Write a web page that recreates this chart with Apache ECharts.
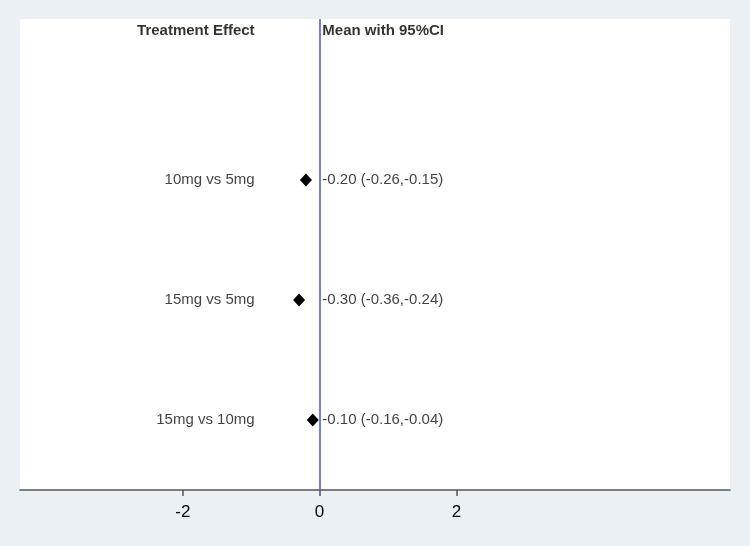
<!DOCTYPE html>
<html>
<head>
<meta charset="utf-8">
<script src="https://cdn.jsdelivr.net/npm/echarts@6/dist/echarts.min.js"></script>
<style>
  html, body { margin: 0; padding: 0; background: #eaf0f3; }
  #chart { width: 750px; height: 546px; }
</style>
</head>
<body>
<div id="chart"></div>
<script>
const comparisons = ['10mg vs 5mg', '15mg vs 5mg', '15mg vs 10mg'];
const rowPos = [3, 2, 1];
const means = [-0.20, -0.30, -0.10];
const lower = [-0.26, -0.36, -0.16];
const upper = [-0.15, -0.24, -0.04];
const ciText = ['-0.20 (-0.26,-0.15)', '-0.30 (-0.36,-0.24)', '-0.10 (-0.16,-0.04)'];
const headers = ['Treatment Effect', 'Mean with 95%CI'];
const xTicks = [-2, 0, 2];

const labelX = -0.95;
const headerY = 4.24;
const font = 'Liberation Sans, Arial, sans-serif';

const chart = echarts.init(document.getElementById('chart'));

chart.setOption({
  backgroundColor: '#eaf0f3',
  animation: false,
  grid: { left: 20, right: 20, top: 19, bottom: 56, show: true, backgroundColor: '#fff', borderWidth: 0 },
  xAxis: {
    type: 'value',
    min: -4.38,
    max: 6,
    splitLine: { show: false },
    axisLine: { show: true, onZero: false, lineStyle: { color: '#555', width: 1.5 } },
    axisTick: { show: true, length: 6, customValues: xTicks, lineStyle: { color: '#555', width: 1.5 } },
    axisLabel: { customValues: xTicks, color: '#000', fontSize: 17, fontFamily: font, margin: 14 }
  },
  yAxis: {
    type: 'value',
    min: 0.417,
    max: 4.342,
    show: false
  },
  series: [
    {
      type: 'custom',
      data: rowPos.map((y, i) => [lower[i], upper[i], y]),
      renderItem: function (params, api) {
        const a = api.coord([api.value(0), api.value(2)]);
        const b = api.coord([api.value(1), api.value(2)]);
        return { type: 'line', shape: { x1: a[0], y1: a[1], x2: b[0], y2: b[1] }, style: { stroke: '#000', lineWidth: 1 } };
      },
      z: 3
    },
    {
      type: 'scatter',
      symbol: 'diamond',
      symbolSize: [12, 13],
      itemStyle: { color: '#000', opacity: 1 },
      data: rowPos.map((y, i) => [means[i], y]),
      z: 4,
      markLine: {
        silent: true,
        symbol: 'none',
        label: { show: false },
        lineStyle: { color: '#5050e0', width: 1.5, type: 'solid' },
        data: [{ xAxis: 0 }]
      }
    },
    {
      type: 'scatter',
      symbolSize: 0,
      data: rowPos.map((y, i) => ({ value: [labelX, y], name: comparisons[i] })),
      label: { show: true, position: 'left', distance: 0, formatter: p => p.name, color: '#111', fontSize: 15, fontFamily: font }
    },
    {
      type: 'scatter',
      symbolSize: 0,
      data: rowPos.map((y, i) => ({ value: [0.04, y], name: ciText[i] })),
      label: { show: true, position: 'right', distance: 0, formatter: p => p.name, color: '#111', fontSize: 15, fontFamily: font }
    },
    {
      type: 'scatter',
      symbolSize: 0,
      data: [{ value: [labelX, headerY], name: headers[0] }],
      label: { show: true, position: 'left', distance: 0, formatter: p => p.name, color: '#000', fontSize: 15, fontWeight: 'bold', fontFamily: font }
    },
    {
      type: 'scatter',
      symbolSize: 0,
      data: [{ value: [0.04, headerY], name: headers[1] }],
      label: { show: true, position: 'right', distance: 0, formatter: p => p.name, color: '#000', fontSize: 15, fontWeight: 'bold', fontFamily: font }
    }
  ]
});
</script>
</body>
</html>
